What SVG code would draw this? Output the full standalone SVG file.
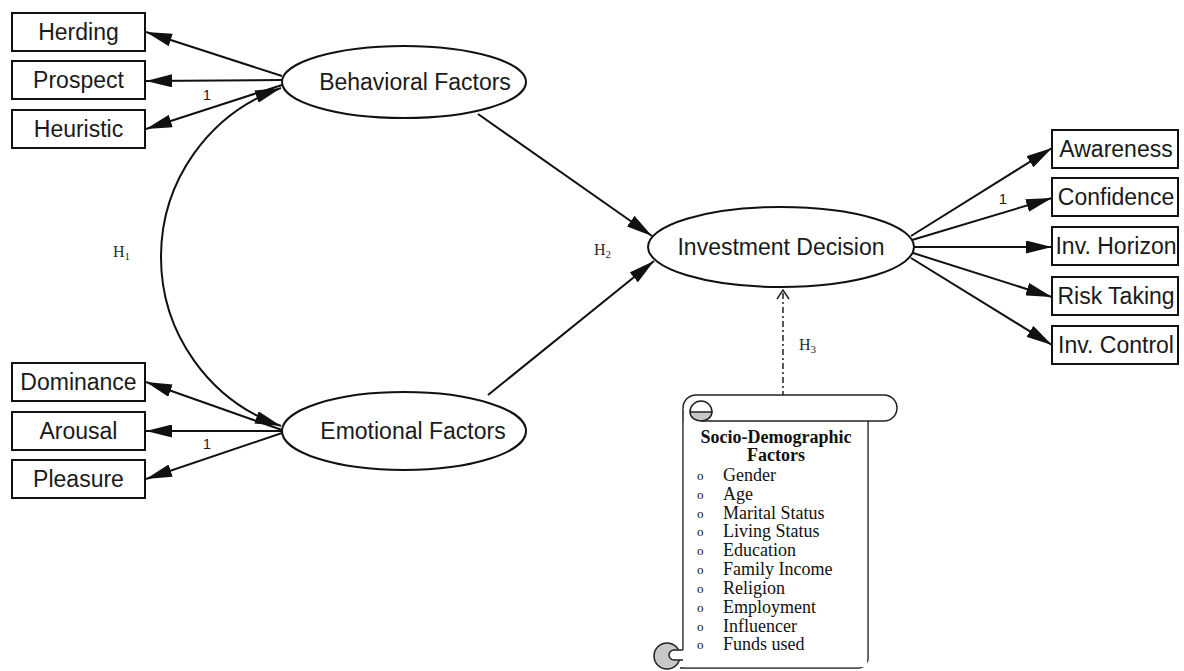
<svg xmlns="http://www.w3.org/2000/svg" width="1184" height="671" viewBox="0 0 1184 671">
<style>
.box{fill:#fff;stroke:#111;stroke-width:2}
.ell{fill:#fff;stroke:#111;stroke-width:2}
.lbl{font-family:"Liberation Sans",Arial,sans-serif;font-size:23px;fill:#1a1a1a;text-anchor:middle}
.one{font-family:"Liberation Sans",Arial,sans-serif;font-size:15px;fill:#222;text-anchor:middle}
.h{font-family:"Liberation Serif","Times New Roman",serif;font-size:16px;fill:#2b2b2b}
.sc{font-family:"Liberation Serif","Times New Roman",serif;font-size:18px;fill:#111}
.con{stroke:#111;stroke-width:2;fill:none;marker-end:url(#ah)}
</style>
<defs>
<marker id="ah" markerUnits="userSpaceOnUse" markerWidth="26" markerHeight="13" refX="26" refY="6.5" orient="auto-start-reverse" viewBox="0 0 26 13">
<path d="M0,0 L26,6.5 L0,13 z" fill="#111"/>
</marker>
</defs>
<rect width="1184" height="671" fill="#fff"/>

<g id="connectors">
<line class="con" x1="282" y1="76" x2="146" y2="32"/>
<line class="con" x1="282" y1="80" x2="146" y2="81"/>
<line class="con" x1="282" y1="85" x2="146" y2="129"/>
<line class="con" x1="282" y1="430" x2="146" y2="382"/>
<line class="con" x1="282" y1="431" x2="146" y2="431"/>
<line class="con" x1="282" y1="433" x2="146" y2="479"/>
<path class="con" d="M281,88 A179,179 0 0 0 281,426" style="marker-start:url(#ah)"/>
<line class="con" x1="478" y1="114" x2="652" y2="236"/>
<line class="con" x1="488" y1="395" x2="654" y2="261"/>
<line class="con" x1="911" y1="236" x2="1052" y2="148"/>
<line class="con" x1="912" y1="240" x2="1052" y2="198"/>
<line class="con" x1="914" y1="247" x2="1052" y2="247"/>
<line class="con" x1="913" y1="253" x2="1052" y2="297"/>
<line class="con" x1="911" y1="258" x2="1052" y2="345"/>
<line x1="783" y1="397" x2="783" y2="291" stroke="#222" stroke-width="1.5" stroke-dasharray="6 3 2 3"/>
<path d="M777,299 L783,290 L789,299" fill="none" stroke="#222" stroke-width="1.5"/>
<text class="one" x="207" y="100">1</text>
<text class="one" x="207" y="449">1</text>
<text class="one" x="1003" y="204">1</text>
<text class="h" x="113" y="257">H<tspan font-size="11" dy="3">1</tspan></text>
<text class="h" x="594" y="255">H<tspan font-size="11" dy="3">2</tspan></text>
<text class="h" x="799" y="350">H<tspan font-size="11" dy="3">3</tspan></text>
</g>

<g id="herding"><rect class="box" x="12" y="13" width="133" height="38"/><text class="lbl" x="78.5" y="40">Herding</text></g>
<g id="prospect"><rect class="box" x="12" y="61" width="133" height="38"/><text class="lbl" x="78.5" y="88">Prospect</text></g>
<g id="heuristic"><rect class="box" x="12" y="110" width="133" height="38"/><text class="lbl" x="78.5" y="137">Heuristic</text></g>
<g id="dominance"><rect class="box" x="12" y="363" width="133" height="38"/><text class="lbl" x="78.5" y="390">Dominance</text></g>
<g id="arousal"><rect class="box" x="12" y="412" width="133" height="38"/><text class="lbl" x="78.5" y="439">Arousal</text></g>
<g id="pleasure"><rect class="box" x="12" y="460" width="133" height="38"/><text class="lbl" x="78.5" y="487">Pleasure</text></g>

<g id="behavioral"><ellipse class="ell" cx="404" cy="82" rx="122" ry="36"/><text class="lbl" x="415" y="90">Behavioral Factors</text></g>
<g id="emotional"><ellipse class="ell" cx="404" cy="431" rx="122" ry="39"/><text class="lbl" x="413" y="439">Emotional Factors</text></g>
<g id="investment"><ellipse class="ell" cx="781" cy="247" rx="133" ry="40"/><text class="lbl" x="781" y="255">Investment Decision</text></g>

<g id="awareness"><rect class="box" x="1052" y="130" width="126" height="38"/><text class="lbl" x="1116" y="157">Awareness</text></g>
<g id="confidence"><rect class="box" x="1052" y="178" width="126" height="38"/><text class="lbl" x="1116" y="205">Confidence</text></g>
<g id="horizon"><rect class="box" x="1052" y="227" width="126" height="38"/><text class="lbl" x="1116" y="254">Inv. Horizon</text></g>
<g id="risk"><rect class="box" x="1052" y="277" width="126" height="38"/><text class="lbl" x="1116" y="304">Risk Taking</text></g>
<g id="control"><rect class="box" x="1052" y="326" width="126" height="38"/><text class="lbl" x="1116" y="353">Inv. Control</text></g>

<g id="socio">
<path d="M683,408 L683,650 M868,421 L868,657 A10,10 0 0 1 858,668 L680,668" fill="none" stroke="#222" stroke-width="1.5"/>
<rect x="683.8" y="421.7" width="183.4" height="245.5" fill="#fff"/>
<path d="M683,408 A13,13 0 0 1 696,395 L884,395 A13,13 0 0 1 884,421 L701,421" fill="#fff" stroke="#222" stroke-width="1.5"/>
<path d="M690,412 A11,11 0 0 1 712,412" fill="none" stroke="#222" stroke-width="1.5"/>
<path d="M690,412 A11,9 0 0 0 712,412 Z" fill="#c8c8c8" stroke="#222" stroke-width="1.5"/>
<circle cx="667" cy="656" r="13" fill="#c8c8c8" stroke="#222" stroke-width="1.5"/>
<path d="M683,650 L674,650 A5,5 0 0 0 674,660 L683,660" fill="#fff" stroke="#222" stroke-width="1.5"/>
<text class="sc" x="776" y="443" text-anchor="middle" font-weight="bold">Socio-Demographic</text>
<text class="sc" x="776" y="461" text-anchor="middle" font-weight="bold">Factors</text>
<g font-family="'Liberation Serif','Times New Roman',serif" font-size="13" fill="#111">
<text x="697" y="480">o</text><text x="697" y="499">o</text><text x="697" y="518">o</text><text x="697" y="536">o</text><text x="697" y="555">o</text>
<text x="697" y="574">o</text><text x="697" y="593">o</text><text x="697" y="612">o</text><text x="697" y="631">o</text><text x="697" y="649">o</text>
</g>
<text class="sc" x="723" y="481">Gender</text>
<text class="sc" x="723" y="500">Age</text>
<text class="sc" x="723" y="519">Marital Status</text>
<text class="sc" x="723" y="537">Living Status</text>
<text class="sc" x="723" y="556">Education</text>
<text class="sc" x="723" y="575">Family Income</text>
<text class="sc" x="723" y="594">Religion</text>
<text class="sc" x="723" y="613">Employment</text>
<text class="sc" x="723" y="632">Influencer</text>
<text class="sc" x="723" y="650">Funds used</text>
</g>
</svg>
